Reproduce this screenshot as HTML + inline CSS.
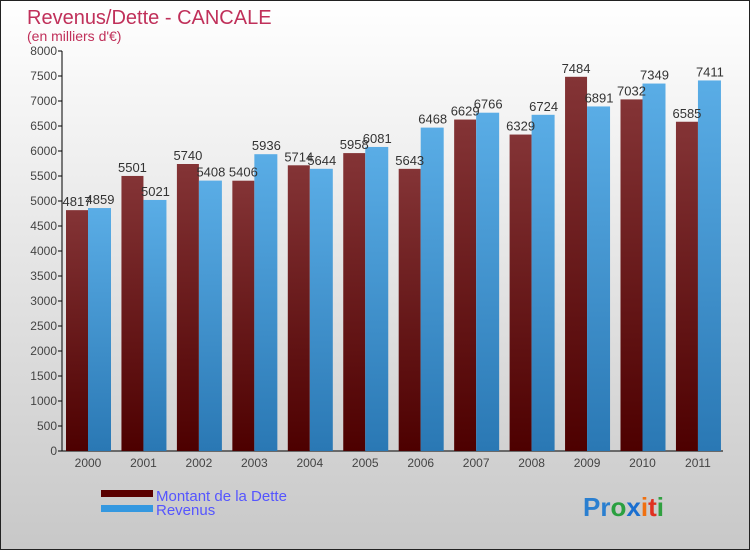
<!DOCTYPE html>
<html><head><meta charset="utf-8"><style>
body{margin:0;width:750px;height:550px;overflow:hidden;font-family:"Liberation Sans",sans-serif}
#c{position:absolute;left:0;top:0;width:748px;height:548px;border:1px solid #222;background:linear-gradient(#fff,#c8c8c8)}
</style></head><body>
<div id="c">
<svg id="s" width="748" height="548" style="position:absolute;left:0;top:0">
<defs>
<linearGradient id="gd" x1="0" y1="0" x2="0" y2="1"><stop offset="0" stop-color="#843436"/><stop offset="1" stop-color="#4d0000"/></linearGradient>
<linearGradient id="gr" x1="0" y1="0" x2="0" y2="1"><stop offset="0" stop-color="#5aade6"/><stop offset="1" stop-color="#2a78b4"/></linearGradient>
</defs>
<text x="26" y="23" font-size="20" fill="#c0305a">Revenus/Dette - CANCALE</text>
<text x="26" y="40" font-size="14" fill="#c0305a">(en milliers d'€)</text>
<g id="axes"></g><g id="bars"></g>
<rect x="100" y="489" width="52" height="7" fill="#5a0000"/>
<rect x="100" y="504" width="52" height="7" fill="#3498e0"/>
<text x="155" y="500" font-size="15" fill="#5555ff">Montant de la Dette</text>
<text x="155" y="514" font-size="15" fill="#5555ff">Revenus</text>
<text x="582" y="515" font-size="26" font-weight="bold"><tspan fill="#2a7fd0">Pr</tspan><tspan fill="#2aa040">o</tspan><tspan fill="#1a6fd0">x</tspan><tspan fill="#f07010">i</tspan><tspan fill="#e03020">t</tspan><tspan fill="#30a040">i</tspan></text>
</svg></div>
<script>
const years=["2000","2001","2002","2003","2004","2005","2006","2007","2008","2009","2010","2011"];
const dette=[4817,5501,5740,5406,5714,5958,5643,6629,6329,7484,7032,6585];
const revenus=[4859,5021,5408,5936,5644,6081,6468,6766,6724,6891,7349,7411];
const ticks=[0,500,1000,1500,2000,2500,3000,3500,4000,4500,5000,5500,6000,6500,7000,7500,8000];
const NS="http://www.w3.org/2000/svg";
const y=v=>450-v*0.05, gx=i=>65+i*55.45;
function mk(t,a,p){const e=document.createElementNS(NS,t);for(const k in a)e.setAttribute(k,a[k]);p.appendChild(e);return e;}
const ax=document.getElementById('axes'),bg=document.getElementById('bars');
let l=mk('line',{x1:61,y1:50,x2:61,y2:450,stroke:'#000'},ax);


l=mk('line',{x1:61,y1:450,x2:722,y2:450,stroke:'#000'},ax);


ticks.forEach(t=>{mk('line',{x1:57,x2:61,y1:y(t),y2:y(t),stroke:'#000'},ax);
const tx=mk('text',{x:56,y:y(t)+4,'font-size':12,'text-anchor':'end',fill:'#444'},ax);tx.textContent=t;

});
years.forEach((yr,i)=>{const x=gx(i);
const t=mk('text',{x:x+22,y:466,'font-size':12,'text-anchor':'middle',fill:'#444'},ax);t.textContent=yr;


const a=mk('rect',{x:x,y:y(dette[i]),width:22,height:450-y(dette[i]),fill:'url(#gd)'},bg);


const b=mk('rect',{x:x+22,y:y(revenus[i]),width:23,height:450-y(revenus[i]),fill:'url(#gr)'},bg);


const la=mk('text',{x:x+11,y:y(dette[i])-4,'font-size':13,'text-anchor':'middle',fill:'#333'},bg);la.textContent=dette[i];


const lb=mk('text',{x:x+34,y:y(revenus[i])-4,'font-size':13,'text-anchor':'middle',fill:'#333'},bg);lb.textContent=revenus[i];

});
</script></body></html>
